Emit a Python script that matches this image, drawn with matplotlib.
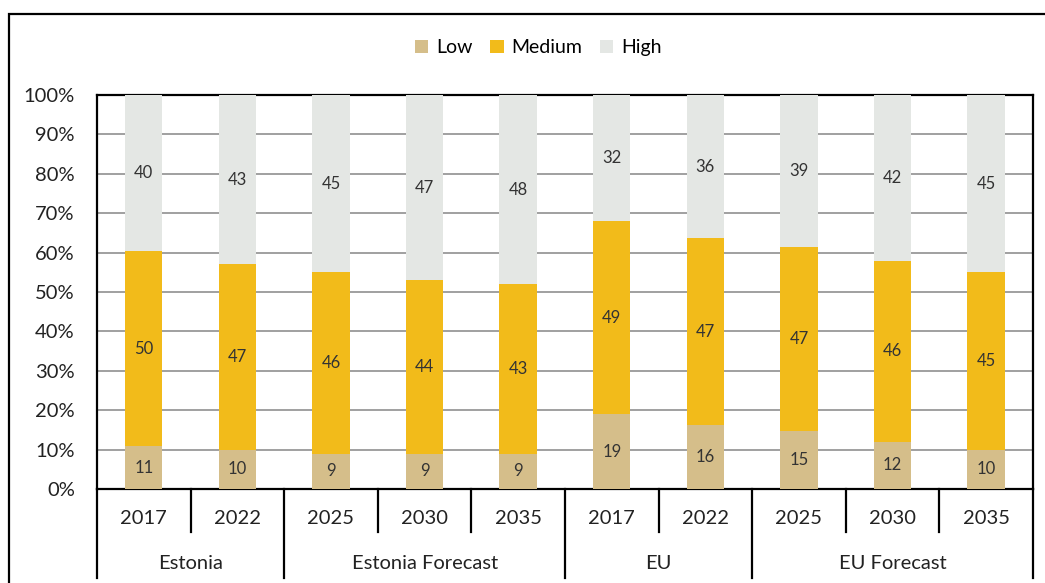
import matplotlib.pyplot as plt
from matplotlib.patches import Rectangle
import numpy as np

plt.rcParams['font.family'] = ['Lato', 'DejaVu Sans']

years = ['2017', '2022', '2025', '2030', '2035', '2017', '2022', '2025', '2030', '2035']
groups = ['Estonia', 'Estonia Forecast', 'EU', 'EU Forecast']
group_sizes = [2, 3, 2, 3]
low = [11, 10, 9, 9, 9, 19, 16, 15, 12, 10]
medium = [50, 47, 46, 44, 43, 49, 47, 47, 46, 45]
high = [40, 43, 45, 47, 48, 32, 36, 39, 42, 45]

colors = {'Low': '#D5BE8A', 'Medium': '#F2BB1A', 'High': '#E4E7E4'}
text_color = '#333333'

fig = plt.figure(figsize=(10.45, 5.83), dpi=100)
ax = fig.add_axes([0.0928, 0.1612, 0.8957, 0.6758])

x = np.arange(len(years))
series = {'Low': np.array(low, float), 'Medium': np.array(medium, float),
          'High': np.array(high, float)}
total = series['Low'] + series['Medium'] + series['High']

bottom = np.zeros(len(years))
for name, vals in series.items():
    share = vals / total * 100
    ax.bar(x, share, 0.4, bottom=bottom, color=colors[name], label=name, zorder=3)
    for xi, b, s, v in zip(x, bottom, share, vals):
        ax.text(xi, b + s / 2, f'{int(v)}', ha='center', va='center',
                fontsize=12, color=text_color, zorder=4)
    bottom += share

ax.set_xlim(-0.5, len(years) - 0.5)
ax.set_ylim(0, 100)
ax.set_yticks(np.arange(0, 101, 10))
ax.set_yticklabels([f'{v}%' for v in range(0, 101, 10)], fontsize=14.5, color='#222222')
ax.tick_params(axis='y', length=0, pad=16)
ax.set_xticks([])
ax.yaxis.grid(True, color='#A0A0A0', linewidth=1.4, zorder=0)
for sp in ax.spines.values():
    sp.set_color('black')
    sp.set_linewidth(1.6)

# two-level category axis
trans = ax.get_xaxis_transform()
short_y, long_y = -0.11, -0.225
edges = np.cumsum([0] + group_sizes)
for i in range(len(years) + 1):
    yb = long_y if i in edges else short_y
    ax.plot([i - 0.5, i - 0.5], [0, yb], transform=trans, color='black',
            linewidth=1.6, clip_on=False)
for xi, yr in zip(x, years):
    ax.text(xi, -0.074, yr, transform=trans, ha='center', va='center',
            fontsize=14.5, color='#222222')
for g, s, e in zip(groups, edges[:-1], edges[1:]):
    ax.text((s + e - 1) / 2, -0.188, g, transform=trans, ha='center', va='center',
            fontsize=14.5, color='#222222')

fig.legend(loc='center', bbox_to_anchor=(0.515, 0.918), ncol=3, frameon=False,
           fontsize=14, handlelength=0.7, handleheight=0.7, handletextpad=0.4,
           columnspacing=0.9)

fig.patches.append(Rectangle((0.0086, -0.05), 1.2, 0.976 + 0.05, transform=fig.transFigure,
                             fill=False, edgecolor='black', linewidth=1.6))

fig.savefig('out.png', dpi=100)
